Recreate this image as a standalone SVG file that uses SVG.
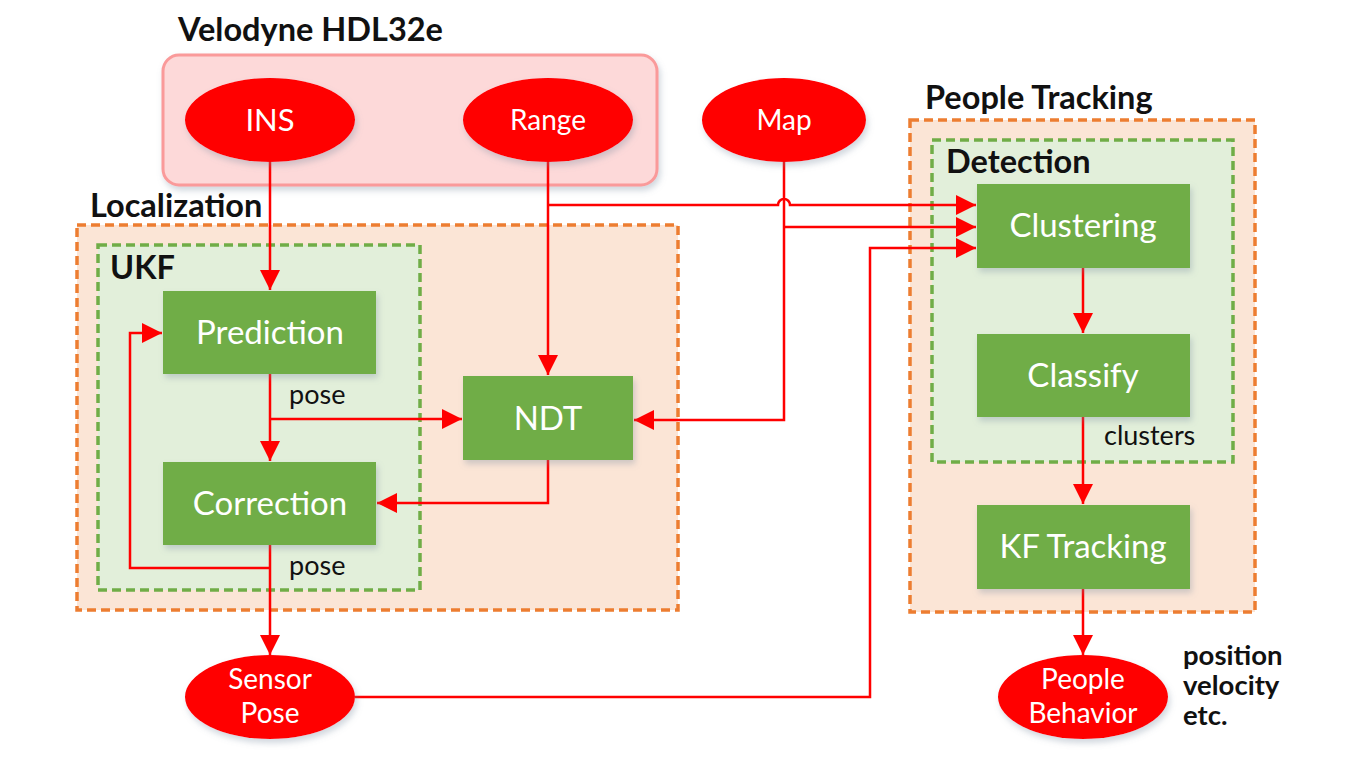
<svg xmlns="http://www.w3.org/2000/svg" width="1347" height="764" viewBox="0 0 1347 764">
<defs>
  <filter id="sh" x="-20%" y="-20%" width="150%" height="160%">
    <feDropShadow dx="2" dy="4" stdDeviation="3" flood-color="#7a8aa0" flood-opacity="0.35"/>
  </filter>
  <marker id="ah" markerUnits="userSpaceOnUse" markerWidth="20" markerHeight="20" refX="20" refY="10" orient="auto">
    <path d="M0,0 L20,10 L0,20 z" fill="#ff0000"/>
  </marker>
  <style>
    .title{font-family:Lato,"Liberation Sans",sans-serif;font-weight:bold;font-size:32.5px;fill:#111}
    .lbl{font-family:Lato,"Liberation Sans",sans-serif;font-size:27px;fill:#111}
    .side{font-family:Lato,"Liberation Sans",sans-serif;font-weight:bold;font-size:27.5px;fill:#111}
    .box{fill:#70ad47;filter:url(#sh)}
    .boxt{font-family:Lato,"Liberation Sans",sans-serif;font-size:33px;fill:#fff;text-anchor:middle}
    .ell{fill:#ff0000;filter:url(#sh)}
    .ellt{font-family:Lato,"Liberation Sans",sans-serif;font-size:28px;fill:#fff;text-anchor:middle}
    .big{font-size:31px}
    .grpo{fill:#fbe5d6;stroke:#ed7d31;stroke-width:3.5;stroke-dasharray:9 5}
    .grpg{fill:#e2efda;stroke:#70ad47;stroke-width:3.5;stroke-dasharray:9 5}
    .c{fill:none;stroke:#ff0000;stroke-width:2.5}
  </style>
</defs>
<rect width="1347" height="764" fill="#fff"/>

<!-- Groups -->
<g id="velodyne">
  <rect x="163" y="55" width="494" height="130" rx="16" fill="#fdd9d9" stroke="#fa9a9a" stroke-width="3" filter="url(#sh)"/>
  <text class="title" x="178" y="41">Velodyne HDL32e</text>
</g>
<g id="localization">
  <rect class="grpo" x="77" y="225" width="601" height="385"/>
  <text class="title" x="90" y="217">Localization</text>
</g>
<g id="ukf">
  <rect class="grpg" x="98" y="245" width="322" height="345"/>
  <text class="title" x="110" y="279">UKF</text>
</g>
<g id="people-tracking">
  <rect class="grpo" x="910" y="120" width="345" height="492"/>
  <text class="title" x="925" y="109">People Tracking</text>
</g>
<g id="detection">
  <rect class="grpg" x="932" y="140" width="301" height="322"/>
  <text class="title" x="946" y="173">Detection</text>
</g>

<!-- Connectors -->
<g id="connectors">
  <path class="c" d="M270,162 V290" marker-end="url(#ah)"/>
  <path class="c" d="M548,162 V375" marker-end="url(#ah)"/>
  <path class="c" d="M548,205 H778 A6,6 0 0 1 790,205 H976" marker-end="url(#ah)"/>
  <path class="c" d="M784,162 V420 H634" marker-end="url(#ah)"/>
  <path class="c" d="M784,227 H976" marker-end="url(#ah)"/>
  <path class="c" d="M270,374 V461" marker-end="url(#ah)"/>
  <path class="c" d="M270,419 H462" marker-end="url(#ah)"/>
  <path class="c" d="M548,460 V503 H377" marker-end="url(#ah)"/>
  <path class="c" d="M270,545 V655" marker-end="url(#ah)"/>
  <path class="c" d="M270,568 H130 V333 H162" marker-end="url(#ah)"/>
  <path class="c" d="M355,697 H870 V248 H976" marker-end="url(#ah)"/>
  <path class="c" d="M1083,268 V333" marker-end="url(#ah)"/>
  <path class="c" d="M1083,417 V504" marker-end="url(#ah)"/>
  <path class="c" d="M1083,589 V655" marker-end="url(#ah)"/>
</g>

<!-- Nodes -->
<g id="ins">
  <ellipse class="ell" cx="270" cy="120" rx="85" ry="42"/>
  <text class="ellt big" x="270" y="131">INS</text>
</g>
<g id="range">
  <ellipse class="ell" cx="548" cy="120" rx="85" ry="42"/>
  <text class="ellt" x="548" y="130">Range</text>
</g>
<g id="map">
  <ellipse class="ell" cx="784" cy="120" rx="82" ry="42"/>
  <text class="ellt" x="784" y="130">Map</text>
</g>
<g id="prediction">
  <rect class="box" x="163" y="291" width="213" height="83"/>
  <text class="boxt" x="270" y="344">Prediction</text>
</g>
<g id="correction">
  <rect class="box" x="163" y="462" width="213" height="83"/>
  <text class="boxt" x="270" y="515">Correction</text>
</g>
<g id="ndt">
  <rect class="box" x="463" y="376" width="170" height="84"/>
  <text class="boxt" x="548" y="430">NDT</text>
</g>
<g id="sensor-pose">
  <ellipse class="ell" cx="270" cy="697" rx="85" ry="42"/>
  <text class="ellt" x="270" y="689">Sensor</text>
  <text class="ellt" x="270" y="723">Pose</text>
</g>
<g id="clustering">
  <rect class="box" x="977" y="184" width="213" height="84"/>
  <text class="boxt" x="1083" y="237">Clustering</text>
</g>
<g id="classify">
  <rect class="box" x="977" y="334" width="213" height="83"/>
  <text class="boxt" x="1083" y="387">Classify</text>
</g>
<g id="kf-tracking">
  <rect class="box" x="977" y="505" width="213" height="84"/>
  <text class="boxt" x="1083" y="558">KF Tracking</text>
</g>
<g id="people-behavior">
  <ellipse class="ell" cx="1083" cy="697" rx="85" ry="42"/>
  <text class="ellt" x="1083" y="689">People</text>
  <text class="ellt" x="1083" y="723">Behavior</text>
</g>

<!-- Labels -->
<g id="labels">
  <text class="lbl" x="289" y="404">pose</text>
  <text class="lbl" x="289" y="575">pose</text>
  <text class="lbl" x="1104" y="445">clusters</text>
  <text class="side" x="1183" y="665">position</text>
  <text class="side" x="1183" y="695">velocity</text>
  <text class="side" x="1183" y="725">etc.</text>
</g>
</svg>
